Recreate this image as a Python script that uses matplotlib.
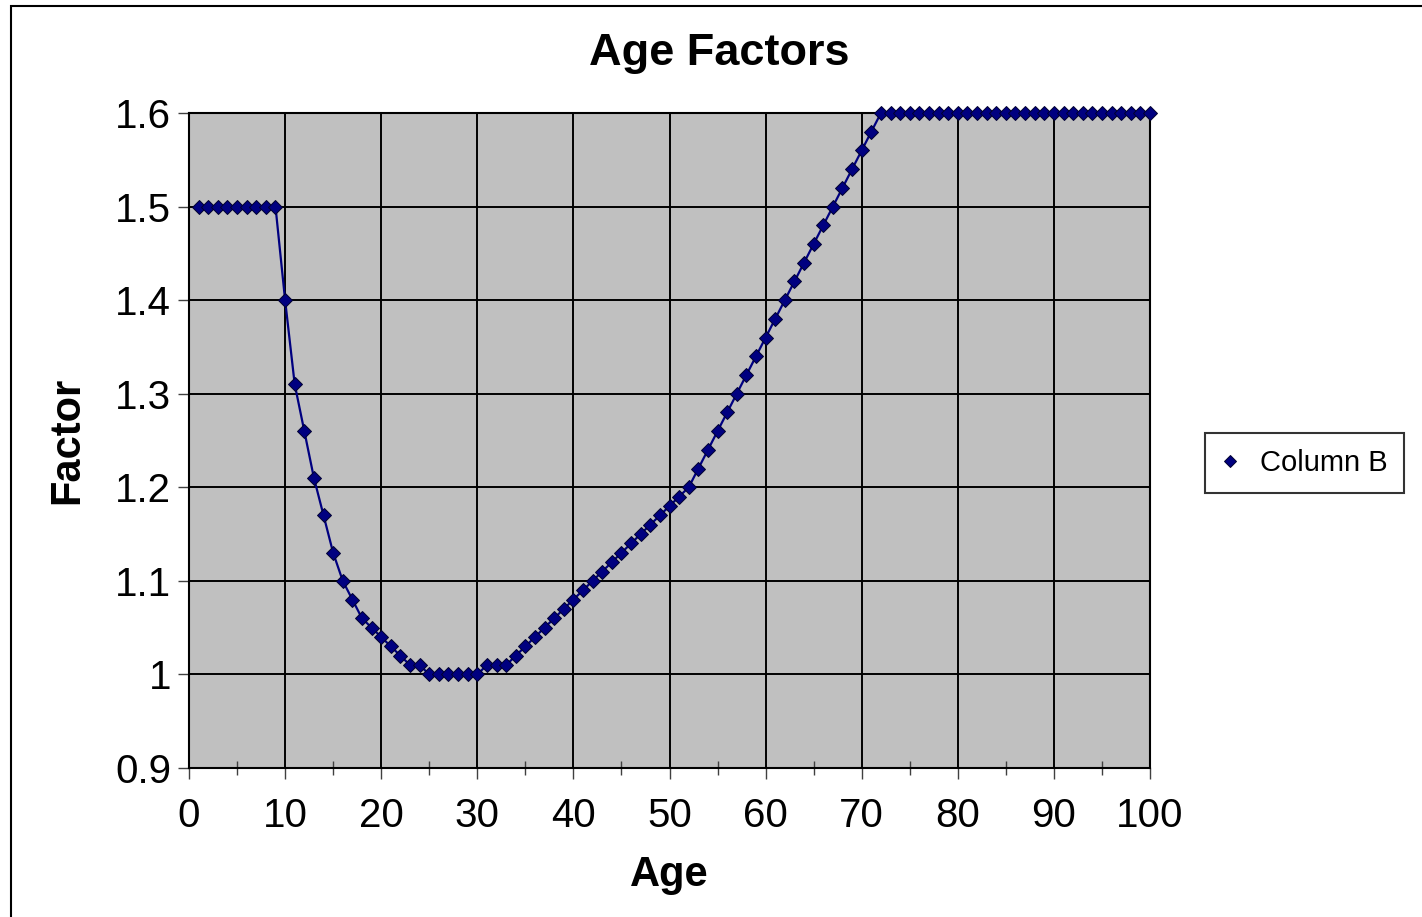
import matplotlib
matplotlib.use('Agg')
import matplotlib.pyplot as plt
from matplotlib.patches import Rectangle
from matplotlib.ticker import MultipleLocator

plt.rcParams['font.family'] = ['Liberation Sans', 'DejaVu Sans']

# age factor table, ages 1..100
ages = list(range(1, 101))
factors = ([1.5] * 9 +
           [1.40, 1.31, 1.26, 1.21, 1.17, 1.13, 1.10, 1.08, 1.06, 1.05,
            1.04, 1.03, 1.02, 1.01, 1.01, 1.00, 1.00, 1.00, 1.00, 1.00,
            1.00, 1.01, 1.01, 1.01, 1.02, 1.03, 1.04, 1.05, 1.06, 1.07,
            1.08, 1.09, 1.10, 1.11, 1.12, 1.13, 1.14, 1.15, 1.16, 1.17,
            1.18, 1.19, 1.20, 1.22, 1.24, 1.26, 1.28, 1.30, 1.32, 1.34,
            1.36, 1.38, 1.40, 1.42, 1.44, 1.46, 1.48, 1.50, 1.52, 1.54,
            1.56, 1.58] +
           [1.6] * 29)

fig = plt.figure(figsize=(14.22, 9.17), dpi=100)
W, H = 1422, 917
ax = fig.add_axes([189 / W, 1 - 768 / H, 961 / W, 655 / H])

# outer chart border (right/bottom edges are off the picture)
fig.patches.append(Rectangle((11 / W, -0.05), 1.2, 1 - 6 / H + 0.05,
                             transform=fig.transFigure, fill=False,
                             edgecolor='black', linewidth=1.5))

ax.set_facecolor('#C0C0C0')
ax.plot(ages, factors, color='#000080', linewidth=1.6, marker='D',
        markersize=7, markerfacecolor='#000080', markeredgecolor='#000030',
        markeredgewidth=0.7, label='Column B', zorder=3, clip_on=False)

ax.set_xlim(0, 100)
ax.set_ylim(0.9, 1.6)
ax.xaxis.set_major_locator(MultipleLocator(10))
ax.xaxis.set_minor_locator(MultipleLocator(5))
ax.set_yticks([0.9, 1.0, 1.1, 1.2, 1.3, 1.4, 1.5, 1.6])
ax.set_yticklabels(['0.9', '1', '1.1', '1.2', '1.3', '1.4', '1.5', '1.6'])
ax.grid(True, which='major', color='black', linewidth=1.4)
ax.tick_params(which='major', direction='out', length=8, width=1,
               color='#404040', labelsize=29)
ax.tick_params(axis='x', which='major', pad=13)
ax.tick_params(axis='y', which='major', pad=5)
ax.tick_params(axis='x', which='minor', direction='inout', length=10,
               width=1, color='#404040')
for s in ax.spines.values():
    s.set_color('black')
    s.set_linewidth(1.5)

fig.text(719 / W, 1 - 53 / H, 'Age Factors', fontsize=32.5,
         fontweight='bold', ha='center', va='center')
ax.set_xlabel('Age', fontsize=30, fontweight='bold', labelpad=14)
ax.set_ylabel('Factor', fontsize=30, fontweight='bold', labelpad=20)

leg = fig.legend(loc='center', bbox_to_anchor=(1304.5 / W, 1 - 463 / H),
                 fontsize=21, frameon=True, fancybox=False, handlelength=0.6,
                 handletextpad=0.75, borderpad=0.55, markerscale=0.85)
leg.get_frame().set_edgecolor('black')
leg.get_frame().set_linewidth(1.5)
leg.get_lines()[0].set_linestyle('None')

fig.savefig('out.png', dpi=100)
